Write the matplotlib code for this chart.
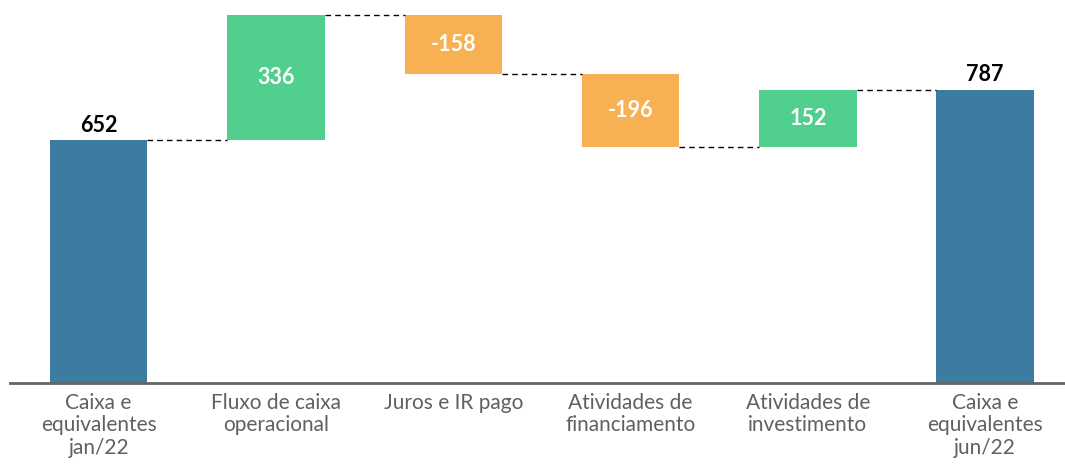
import matplotlib.pyplot as plt

categorias = ["Caixa e\nequivalentes\njan/22", "Fluxo de caixa\noperacional", "Juros e IR pago",
              "Atividades de\nfinanciamento", "Atividades de\ninvestimento", "Caixa e\nequivalentes\njun/22"]
saldo_inicial = 652
variacoes = [336, -158, -196, 152]
saldo_final = 787

plt.rcParams['font.family'] = ['Lato', 'DejaVu Sans']

azul = '#3C7CA0'
verde = '#50CF8F'
laranja = '#F8B152'

fig = plt.figure(figsize=(10.65, 4.66), dpi=100)
ax = fig.add_axes([10 / 1065, 83 / 466, 1 - 10 / 1065, 383 / 466])

largura = 0.55
# barras de saldo
ax.bar(0, saldo_inicial, largura, color=azul)
ax.bar(5, saldo_final, largura, color=azul)
ax.text(0, saldo_inicial + 12, str(saldo_inicial), ha='center', va='bottom', fontsize=15.5, fontweight='bold')
ax.text(5, saldo_final + 12, str(saldo_final), ha='center', va='bottom', fontsize=15.5, fontweight='bold')

# barras de variacao
acumulado = saldo_inicial
niveis = [acumulado]
for i, v in enumerate(variacoes):
    base = acumulado if v > 0 else acumulado + v
    cor = verde if v > 0 else laranja
    ax.bar(i + 1, abs(v), largura, bottom=base, color=cor)
    ax.text(i + 1, base + abs(v) / 2, str(v), ha='center', va='center', fontsize=15.5,
            fontweight='bold', color='white')
    acumulado += v
    niveis.append(acumulado)
niveis[-1] = saldo_final

# linhas tracejadas
for i, nivel in enumerate(niveis):
    ax.plot([i + largura / 2, i + 1 - largura / 2], [nivel, nivel], color='black',
            linestyle=(0, (4, 3)), linewidth=1)

ax.set_xlim(-0.5, 5.45)
ax.set_ylim(0, 1028)
ax.set_xticks(range(len(categorias)))
ax.set_xticklabels(categorias, fontsize=15, color='#606060', linespacing=1.15)
ax.tick_params(axis='x', length=0, pad=7)
ax.set_yticks([])
for lado in ['top', 'right', 'left']:
    ax.spines[lado].set_visible(False)
ax.spines['bottom'].set_color('#666666')
ax.spines['bottom'].set_linewidth(2)

fig.savefig('out.png', dpi=100)
